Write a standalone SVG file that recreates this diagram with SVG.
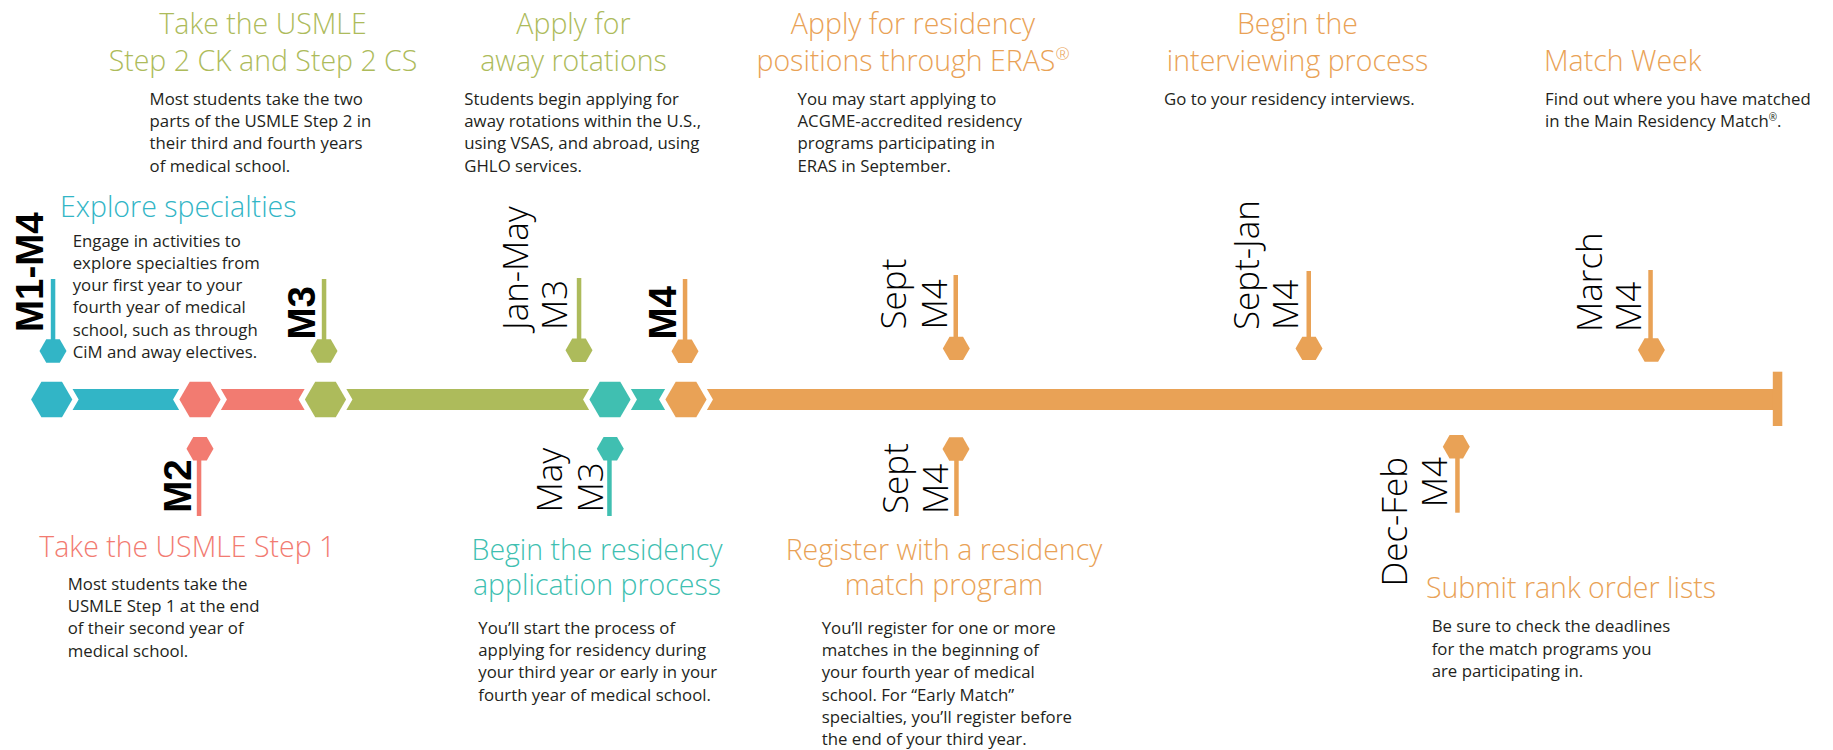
<svg xmlns="http://www.w3.org/2000/svg" width="1833" height="750" viewBox="0 0 1833 750">
<style>
.title{font-family:"Open Sans","Noto Sans",sans-serif;font-weight:300;font-size:28.5px}
.body{font-family:"Open Sans","Noto Sans",sans-serif;font-size:16.8px;fill:#231f20}
.vlab{font-family:"Open Sans","Noto Sans",sans-serif;font-weight:300;font-size:35px;fill:#000}
.blab{font-family:"Liberation Sans",Arial,sans-serif;font-weight:bold;font-size:38.5px;fill:#000}
.c1{fill:#32b5c6}.c2{fill:#f27b71}.c3{fill:#adbb5b}.c4{fill:#40bfb1}.c5{fill:#e9a256}
.big{stroke:#fff;stroke-width:11;paint-order:stroke}
.mid{text-anchor:middle}
</style>
<defs>
<polygon id="hexL" points="-20.6,0 -10.3,-17.85 10.3,-17.85 20.6,0 10.3,17.85 -10.3,17.85"/>
<polygon id="hexS" points="-13.5,0 -6.75,-11.7 6.75,-11.7 13.5,0 6.75,11.7 -6.75,11.7"/>
</defs>

<g id="connectors">
<rect class="c1" x="51.7" y="389" width="148.3" height="21"/>
<rect class="c2" x="200" y="389" width="125.5" height="21"/>
<rect class="c3" x="325.5" y="389" width="284.5" height="21"/>
<rect class="c4" x="610" y="389" width="76" height="21"/>
<rect class="c5" x="686" y="389" width="1087" height="21"/>
<rect class="c5" x="1772.8" y="371.7" width="9.5" height="54.3"/>
<use href="#hexL" class="c1 big" x="51.7" y="399.5"/>
<use href="#hexL" class="c2 big" x="200" y="399.5"/>
<use href="#hexL" class="c3 big" x="325.5" y="399.5"/>
<use href="#hexL" class="c4 big" x="610" y="399.5"/>
<use href="#hexL" class="c5 big" x="686" y="399.5"/>
<!-- top stems -->
<rect class="c1" x="50.8" y="279" width="4.5" height="72"/>
<rect class="c3" x="321.8" y="279" width="4.5" height="72"/>
<rect class="c3" x="576.8" y="278" width="4.5" height="72"/>
<rect class="c5" x="682.8" y="279" width="4.5" height="72"/>
<rect class="c5" x="953.5" y="275" width="4.5" height="74"/>
<rect class="c5" x="1306.5" y="271" width="4.5" height="78"/>
<rect class="c5" x="1648.3" y="270" width="4.5" height="80"/>
<!-- bottom stems -->
<rect class="c2" x="196.8" y="449" width="4.5" height="67"/>
<rect class="c4" x="607.2" y="449" width="4.5" height="67"/>
<rect class="c5" x="954.2" y="449" width="4.5" height="67"/>
<rect class="c5" x="1455.2" y="447" width="4.5" height="65.7"/>
</g>

<g id="m1m4">
<use href="#hexS" class="c1" x="53" y="351"/>
<text class="blab" transform="translate(43.3,332) rotate(-90)">M1-M4</text>
<text class="title" x="60" y="216.7" fill="#32b5c6">Explore specialties</text>
<text class="body"><tspan x="72.7" y="246.7">Engage in activities to</tspan><tspan x="72.7" y="268.9">explore specialties from</tspan><tspan x="72.7" y="291.1">your first year to your</tspan><tspan x="72.7" y="313.3">fourth year of medical</tspan><tspan x="72.7" y="335.5">school, such as through</tspan><tspan x="72.7" y="357.7">CiM and away electives.</tspan></text>
</g>

<g id="m2">
<use href="#hexS" class="c2" x="200" y="448.7"/>
<text class="blab" transform="translate(190.7,512.8) rotate(-90)">M2</text>
<text class="title" x="39.3" y="556.7" fill="#f27b71">Take the USMLE Step 1</text>
<text class="body"><tspan x="67.7" y="590">Most students take the</tspan><tspan x="67.7" y="612.2">USMLE Step 1 at the end</tspan><tspan x="67.7" y="634.4">of their second year of</tspan><tspan x="67.7" y="656.6">medical school.</tspan></text>
</g>

<g id="m3">
<use href="#hexS" class="c3" x="324" y="351"/>
<text class="blab" transform="translate(315,339.5) rotate(-90)">M3</text>
<text class="title mid" fill="#adbb5b"><tspan x="263" y="34.3">Take the USMLE</tspan><tspan x="263" y="71">Step 2 CK and Step 2 CS</tspan></text>
<text class="body"><tspan x="149.6" y="105">Most students take the two</tspan><tspan x="149.6" y="127.2">parts of the USMLE Step 2 in</tspan><tspan x="149.6" y="149.4">their third and fourth years</tspan><tspan x="149.6" y="171.6">of medical school.</tspan></text>
</g>

<g id="janmay">
<use href="#hexS" class="c3" x="579" y="350.3"/>
<text class="vlab" transform="translate(527.5,330) rotate(-90)">Jan-May</text>
<text class="vlab" transform="translate(566.7,330) rotate(-90)">M3</text>
<text class="title mid" fill="#adbb5b"><tspan x="573.5" y="34.3">Apply for</tspan><tspan x="573.5" y="71">away rotations</tspan></text>
<text class="body"><tspan x="464.3" y="105">Students begin applying for</tspan><tspan x="464.3" y="127.2">away rotations within the U.S.,</tspan><tspan x="464.3" y="149.4">using VSAS, and abroad, using</tspan><tspan x="464.3" y="171.6">GHLO services.</tspan></text>
</g>

<g id="may">
<use href="#hexS" class="c4" x="610.3" y="448.7"/>
<text class="vlab" transform="translate(562,512.5) rotate(-90)">May</text>
<text class="vlab" transform="translate(602.7,512.5) rotate(-90)">M3</text>
<text class="title mid" fill="#40bfb1"><tspan x="597" y="560">Begin the residency</tspan><tspan x="597" y="595">application process</tspan></text>
<text class="body"><tspan x="478.3" y="634">You’ll start the process of</tspan><tspan x="478.3" y="656.2">applying for residency during</tspan><tspan x="478.3" y="678.4">your third year or early in your</tspan><tspan x="478.3" y="700.6">fourth year of medical school.</tspan></text>
</g>

<g id="m4">
<use href="#hexS" class="c5" x="685" y="351.3"/>
<text class="blab" transform="translate(676,339.5) rotate(-90)">M4</text>
</g>

<g id="sept-top">
<use href="#hexS" class="c5" x="956.3" y="348.4"/>
<text class="vlab" transform="translate(906,329.5) rotate(-90)">Sept</text>
<text class="vlab" transform="translate(946.7,329.5) rotate(-90)">M4</text>
<text class="title mid" fill="#e9a256"><tspan x="913" y="34.3">Apply for residency</tspan><tspan x="913" y="71">positions through ERAS<tspan font-size="17" dy="-11">®</tspan></tspan></text>
<text class="body"><tspan x="797.5" y="105">You may start applying to</tspan><tspan x="797.5" y="127.2">ACGME-accredited residency</tspan><tspan x="797.5" y="149.4">programs participating in</tspan><tspan x="797.5" y="171.6">ERAS in September.</tspan></text>
</g>

<g id="sept-bottom">
<use href="#hexS" class="c5" x="956" y="449"/>
<text class="vlab" transform="translate(907.7,514) rotate(-90)">Sept</text>
<text class="vlab" transform="translate(948.3,514) rotate(-90)">M4</text>
<text class="title mid" fill="#e9a256"><tspan x="944" y="560">Register with a residency</tspan><tspan x="944" y="595">match program</tspan></text>
<text class="body"><tspan x="821.7" y="634">You’ll register for one or more</tspan><tspan x="821.7" y="656.2">matches in the beginning of</tspan><tspan x="821.7" y="678.4">your fourth year of medical</tspan><tspan x="821.7" y="700.6">school. For “Early Match”</tspan><tspan x="821.7" y="722.8">specialties, you’ll register before</tspan><tspan x="821.7" y="745">the end of your third year.</tspan></text>
</g>

<g id="septjan">
<use href="#hexS" class="c5" x="1309" y="348.4"/>
<text class="vlab" transform="translate(1259,330) rotate(-90)">Sept-Jan</text>
<text class="vlab" transform="translate(1298,330) rotate(-90)">M4</text>
<text class="title mid" fill="#e9a256"><tspan x="1297.5" y="34.3">Begin the</tspan><tspan x="1297.5" y="71">interviewing process</tspan></text>
<text class="body" x="1164" y="105">Go to your residency interviews.</text>
</g>

<g id="decfeb">
<use href="#hexS" class="c5" x="1456.3" y="446.7"/>
<text class="vlab" text-anchor="end" transform="translate(1406.7,457) rotate(-90)">Dec-Feb</text>
<text class="vlab" text-anchor="end" transform="translate(1446.7,457) rotate(-90)">M4</text>
<text class="title" x="1426" y="598.3" fill="#e9a256">Submit rank order lists</text>
<text class="body"><tspan x="1431.7" y="632.3">Be sure to check the deadlines</tspan><tspan x="1431.7" y="654.5">for the match programs you</tspan><tspan x="1431.7" y="676.7">are participating in.</tspan></text>
</g>

<g id="march">
<use href="#hexS" class="c5" x="1651.4" y="350"/>
<text class="vlab" transform="translate(1601.5,332) rotate(-90)">March</text>
<text class="vlab" transform="translate(1641,332) rotate(-90)">M4</text>
<text class="title" x="1544" y="71" fill="#e9a256">Match Week</text>
<text class="body"><tspan x="1545" y="105">Find out where you have matched</tspan><tspan x="1545" y="127.2">in the Main Residency Match<tspan font-size="10" dy="-6">®</tspan></tspan><tspan dy="6">.</tspan></text>
</g>
</svg>
